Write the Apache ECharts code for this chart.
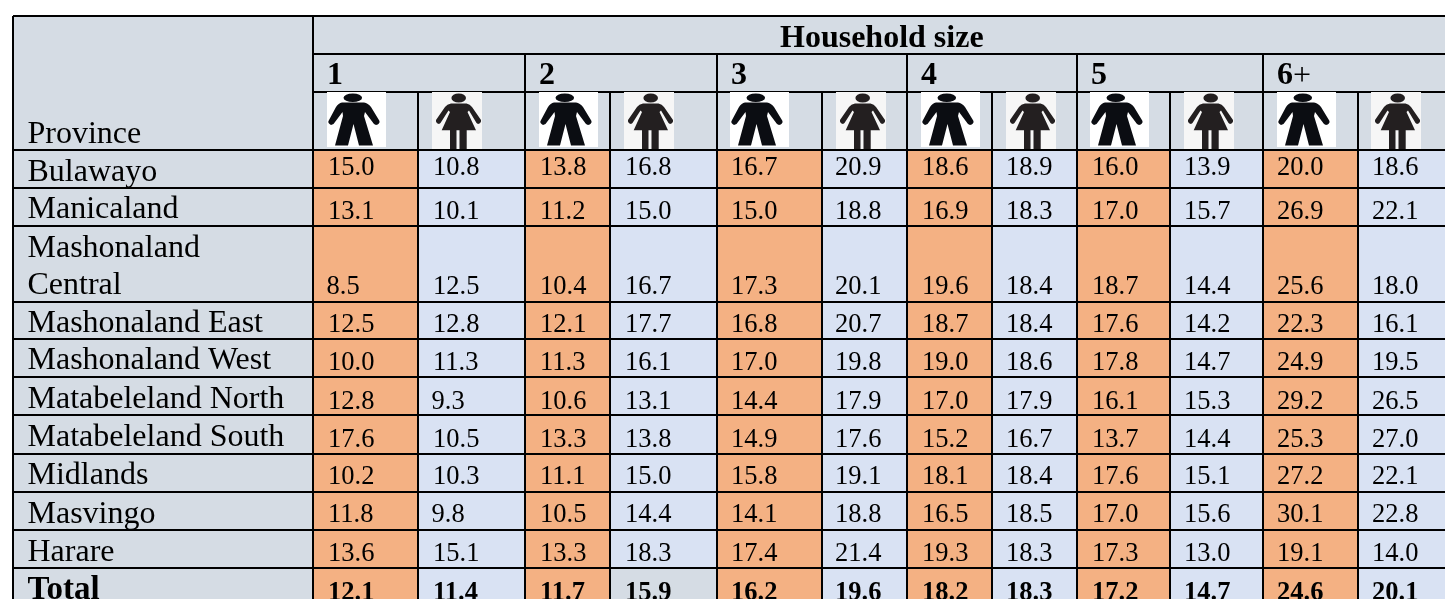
<!DOCTYPE html>
<html>
<head>
    <meta charset="utf-8">
    <title>Household size by province</title>
    <script src="https://cdn.jsdelivr.net/npm/echarts@6/dist/echarts.min.js"></script>
    <style>
        html, body { margin: 0; padding: 0; background: #fff; overflow: hidden; }
    </style>
</head>
<body>
    <div id="main" style="width: 1445px;height:599px;"></div>

    <script type="text/javascript">

        // table content
        var provinces = ['Bulawayo', 'Manicaland', 'Mashonaland\nCentral', 'Mashonaland East', 'Mashonaland West',
            'Matabeleland North', 'Matabeleland South', 'Midlands', 'Masvingo', 'Harare', 'Total'];
        var householdSizes = ['1', '2', '3', '4', '5', '6'];

        var size1Male = [15.0, 13.1, 8.5, 12.5, 10.0, 12.8, 17.6, 10.2, 11.8, 13.6, 12.1];
        var size1Female = [10.8, 10.1, 12.5, 12.8, 11.3, 9.3, 10.5, 10.3, 9.8, 15.1, 11.4];
        var size2Male = [13.8, 11.2, 10.4, 12.1, 11.3, 10.6, 13.3, 11.1, 10.5, 13.3, 11.7];
        var size2Female = [16.8, 15.0, 16.7, 17.7, 16.1, 13.1, 13.8, 15.0, 14.4, 18.3, 15.9];
        var size3Male = [16.7, 15.0, 17.3, 16.8, 17.0, 14.4, 14.9, 15.8, 14.1, 17.4, 16.2];
        var size3Female = [20.9, 18.8, 20.1, 20.7, 19.8, 17.9, 17.6, 19.1, 18.8, 21.4, 19.6];
        var size4Male = [18.6, 16.9, 19.6, 18.7, 19.0, 17.0, 15.2, 18.1, 16.5, 19.3, 18.2];
        var size4Female = [18.9, 18.3, 18.4, 18.4, 18.6, 17.9, 16.7, 18.4, 18.5, 18.3, 18.3];
        var size5Male = [16.0, 17.0, 18.7, 17.6, 17.8, 16.1, 13.7, 17.6, 17.0, 17.3, 17.2];
        var size5Female = [13.9, 15.7, 14.4, 14.2, 14.7, 15.3, 14.4, 15.1, 15.6, 13.0, 14.7];
        var size6Male = [20.0, 26.9, 25.6, 22.3, 24.9, 29.2, 25.3, 27.2, 30.1, 19.1, 24.6];
        var size6Female = [18.6, 22.1, 18.0, 16.1, 19.5, 26.5, 27.0, 22.1, 22.8, 14.0, 20.1];

        var valueColumns = [size1Male, size1Female, size2Male, size2Female, size3Male, size3Female,
            size4Male, size4Female, size5Male, size5Female, size6Male, size6Female];

        // layout, in axis units (the axes run 0-1445 and 0-599)
        var colEdges = [13, 313, 418, 525, 610, 717, 822, 907, 992, 1077, 1170, 1263, 1358, 1460];
        var rowEdges = [150, 188, 226, 302, 339, 377, 415, 454, 492, 530, 568, 620];
        var headerEdges = [16, 54, 92, 150];
        var valueBaselines = [175.7, 220, 295, 333, 371, 410, 448, 485, 523, 562, 600.5];
        var labelBaselines = [180, 217, 293, 331, 368, 407, 445, 483, 522, 560, 598];
        var colTextOffset = [15, 15, 15, 15, 14, 13, 15, 14, 15, 14, 14, 14];
        var iconOffset = [14, 14, 14, 14, 13, 14, 14, 14, 13, 14, 14, 13];

        var headerColor = '#d5dce4';
        var maleColor = '#f4b183';
        var femaleColor = '#d9e2f3';
        var serif = '"Liberation Serif", "Times New Roman", serif';

        // icon outlines, drawn from the top left corner of the white box
        var manPath = 'M16.5 5.7a9.3 4.3 0 1 0 18.6 0a9.3 4.3 0 1 0 -18.6 0Z' +
            'M15 10.5L37 10.5Q41 11 44 15L52.5 29Q53 32 49 33L47 32L38 20L37 24L46 53.5L32 53.5L26.5 32L21 53.5L8 53.5L16 24L15.5 20L6.5 32L4 33Q0.5 31 1.5 29L9 15Q11.5 11 15 10.5Z';
        var womanPath = 'M19.4 6a7.3 4.5 0 1 0 14.6 0a7.3 4.5 0 1 0 -14.6 0Z' +
            'M19 11.5L34.5 11.5Q38 12 40 15L49 28Q49.5 31 46 32L44.5 31L37 18.5L35.5 20L44 38.3L34.7 38.3L34.7 57L27.5 57L27.5 38.3L24.5 38.3L24.5 57L18 57L18 38.3L9.7 38.3L18 20L16.5 18.5L8.5 31L7 32Q3.5 31 4 28L13 15Q15 12 19 11.5Z';

        function textY(baseline, size) {
            return baseline - (5.6 + size * 0.072);
        }

        function box(api, x0, y0, x1, y1, fill) {
            var a = api.coord([x0, y0]);
            var b = api.coord([x1, y1]);
            return { type: 'rect', shape: { x: a[0], y: a[1], width: b[0] - a[0], height: b[1] - a[1] }, style: { fill: fill } };
        }

        function label(api, text, x, baseline, size, bold) {
            var p = api.coord([x, baseline]);
            return {
                type: 'text',
                style: {
                    text: text, x: p[0], y: textY(p[1], size),
                    fill: '#000', verticalAlign: 'middle', align: 'left',
                    font: (bold ? 'bold ' : '') + size + 'px ' + serif
                }
            };
        }

        // one item per value: col, row, value
        var cellData = [];
        valueColumns.forEach(function (values, c) {
            values.forEach(function (v, r) {
                cellData.push([c, r, v]);
            });
        });

        function renderCell(params, api) {
            var c = api.value(0), r = api.value(1), v = api.value(2);
            var isTotal = r === provinces.length - 1;
            var fill = c % 2 === 0 ? maleColor : femaleColor;
            if (isTotal && c === 3) fill = headerColor; // this one total cell is grey in the source
            // single digit values sit a little further left
            var nudge = v < 10 ? -1.5 : 0;
            return {
                type: 'group',
                children: [
                    box(api, colEdges[c + 1], rowEdges[r], colEdges[c + 2], rowEdges[r + 1], fill),
                    label(api, v.toFixed(1), colEdges[c + 1] + colTextOffset[c] + nudge, valueBaselines[r], 26.5, isTotal)
                ]
            };
        }

        function renderProvince(params, api) {
            var r = api.value(0);
            var children = [box(api, colEdges[0], rowEdges[r], colEdges[1], rowEdges[r + 1], headerColor)];
            var lines = provinces[r].split('\n');
            var isTotal = r === provinces.length - 1;
            lines.forEach(function (line, i) {
                var base = labelBaselines[r] - (lines.length - 1 - i) * 37;
                children.push(label(api, line, 27.5, base, isTotal ? 33 : 32, isTotal));
            });
            return { type: 'group', children: children };
        }

        function renderHeader(params, api) {
            var children = [box(api, colEdges[0], headerEdges[0], colEdges[colEdges.length - 1], headerEdges[3], headerColor)];
            children.push(label(api, 'Province', 27.5, 142, 32, false));
            children.push(label(api, 'Household size', 780, 47, 32, true));
            householdSizes.forEach(function (s, i) {
                var x = colEdges[1 + i * 2] + 14;
                children.push(label(api, s, x, 84, 32, true));
                // the plus of 6+ is not bold in the source
                if (i === householdSizes.length - 1) {
                    children.push(label(api, '+', x + 16, 84, 32, false));
                }
            });
            return { type: 'group', children: children };
        }

        // data: column index, even = male box and odd = female box
        function renderIcon(params, api) {
            var c = api.value(0);
            var isMan = c % 2 === 0;
            var x = colEdges[c + 1] + iconOffset[c];
            var p = api.coord([x, 92]);
            return {
                type: 'group',
                children: [
                    box(api, x, 92, x + (isMan ? 59 : 50), isMan ? 147 : 149, isMan ? '#ffffff' : '#f6f6f6'),
                    {
                        type: 'path',
                        x: p[0], y: p[1],
                        shape: { pathData: isMan ? manPath : womanPath },
                        style: { fill: isMan ? '#0b0d12' : '#231f20' }
                    }
                ]
            };
        }

        // rules: x0, y0, x1, y1
        var ruleData = [];
        var right = colEdges[colEdges.length - 1];
        var bottom = rowEdges[rowEdges.length - 1];
        ruleData.push([colEdges[0], headerEdges[0], right, headerEdges[0]]);
        ruleData.push([colEdges[1], headerEdges[1], right, headerEdges[1]]);
        ruleData.push([colEdges[1], headerEdges[2], right, headerEdges[2]]);
        ruleData.push([colEdges[0], headerEdges[3], right, headerEdges[3]]);
        rowEdges.slice(1, -1).forEach(function (y) {
            ruleData.push([colEdges[0], y, right, y]);
        });
        colEdges.slice(0, -1).forEach(function (x, i) {
            var top = i < 2 ? headerEdges[0] : (i % 2 === 1 ? headerEdges[1] : headerEdges[2]);
            ruleData.push([x, top, x, bottom]);
        });

        function renderRule(params, api) {
            var a = api.coord([api.value(0), api.value(1)]);
            var b = api.coord([api.value(2), api.value(3)]);
            return {
                type: 'line',
                shape: { x1: a[0], y1: a[1], x2: b[0], y2: b[1] },
                style: { stroke: '#000', lineWidth: 2 }
            };
        }

        var myChart = echarts.init(document.getElementById('main'));

        var option = {
            animation: false,
            grid: { left: 0, right: 0, top: 0, bottom: 0 },
            xAxis: { type: 'value', min: 0, max: 1445, show: false },
            yAxis: { type: 'value', min: 0, max: 599, inverse: true, show: false },
            series: [
                { type: 'custom', name: 'header', renderItem: renderHeader, data: [[0]], encode: { x: 0 }, z: 1, silent: true },
                { type: 'custom', name: 'province', renderItem: renderProvince, data: provinces.map(function (p, i) { return [i]; }), encode: { x: 0 }, z: 2, silent: true },
                { type: 'custom', name: 'values', renderItem: renderCell, data: cellData, encode: { x: 0, y: 1 }, z: 2, silent: true },
                { type: 'custom', name: 'rules', renderItem: renderRule, data: ruleData, encode: { x: [0, 2], y: [1, 3] }, z: 3, silent: true },
                { type: 'custom', name: 'icons', renderItem: renderIcon, data: valueColumns.map(function (v, i) { return [i]; }), encode: { x: 0 }, z: 4, silent: true }
            ]
        };

        myChart.setOption(option);

    </script>

</body>
</html>
